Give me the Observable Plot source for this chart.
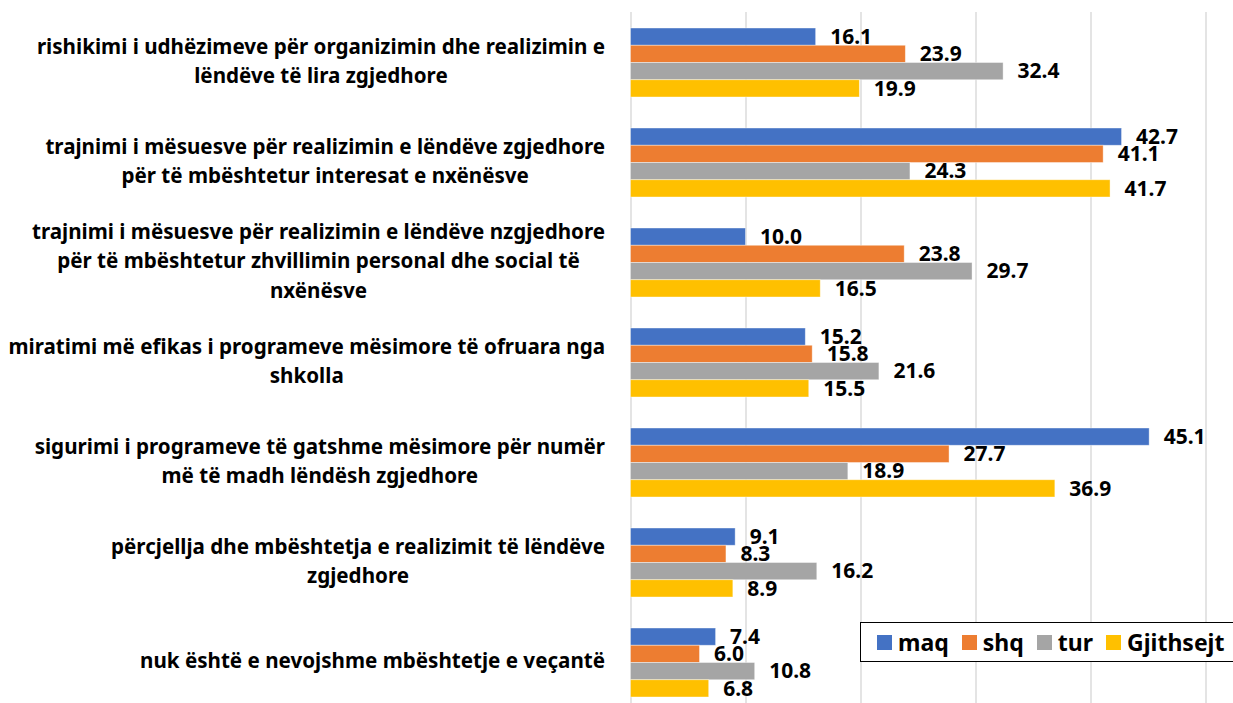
<!DOCTYPE html>
<html><head><meta charset="utf-8">
<script src="https://cdn.jsdelivr.net/npm/d3@7"></script>
<script src="https://cdn.jsdelivr.net/npm/@observablehq/plot@0.6"></script>
<style>
html,body{margin:0;padding:0;background:#fff;overflow:hidden;}
#wrap{position:relative;width:1233px;height:703px;overflow:hidden;}
#legend{position:absolute;left:860px;top:622px;width:368px;height:38px;border:1.6px solid #000;background:#fff;display:flex;align-items:center;font-family:"Noto Sans",sans-serif;font-weight:bold;font-size:23px;color:#000;box-sizing:content-box;padding-left:16px;}
#legend .sw{display:inline-block;width:15px;height:15px;margin-right:6px;}
#legend .it{display:flex;align-items:center;margin-right:13px;}
</style></head><body><div id="wrap"></div>
<script>
const categories = [
  "rishikimi i udhëzimeve për organizimin dhe realizimin e\nlëndëve të lira zgjedhore",
  "trajnimi i mësuesve për realizimin e lëndëve zgjedhore\npër të mbështetur interesat e nxënësve",
  "trajnimi i mësuesve për realizimin e lëndëve nzgjedhore\npër të mbështetur zhvillimin personal dhe social të\nnxënësve",
  "miratimi më efikas i programeve mësimore të ofruara nga\nshkolla",
  "sigurimi i programeve të gatshme mësimore për numër\nmë të madh lëndësh zgjedhore",
  "përcjellja dhe mbështetja e realizimit të lëndëve\nzgjedhore",
  "nuk është e nevojshme mbështetje e veçantë"
];
const seriesNames = ["maq", "shq", "tur", "Gjithsejt"];
const seriesColors = ["#4472C4", "#ED7D31", "#A5A5A5", "#FFC000"];
const maq = [16.1, 42.7, 10.0, 15.2, 45.1, 9.1, 7.4];
const shq = [23.9, 41.1, 23.8, 15.8, 27.7, 8.3, 6.0];
const tur = [32.4, 24.3, 29.7, 21.6, 18.9, 16.2, 10.8];
const gjithsejt = [19.9, 41.7, 16.5, 15.5, 36.9, 8.9, 6.8];
const xTicks = [0, 10, 20, 30, 40, 50];

const seriesValues = [maq, shq, tur, gjithsejt];
const rows = seriesValues.map((vals, s) => categories.map((c, i) => ({category: c, series: seriesNames[s], value: vals[i]})));

const bandwidth = 69; // px of band used by the 4 bars
const barH = bandwidth / 4;
const marks = [Plot.ruleX(xTicks, {stroke: "#D9D9D9", strokeWidth: 1.4})];
rows.forEach((data, s) => {
  marks.push(Plot.barX(data, {x: "value", y: "category", fill: seriesColors[s], stroke: "#fff", strokeOpacity: 0.5, strokeWidth: 0.8,
    insetTop: s * barH, insetBottom: (3 - s) * barH}));
});
rows.forEach((data, s) => {
  marks.push(Plot.text(data, {x: "value", y: "category", text: d => d.value.toFixed(1), textAnchor: "start",
    dx: 14, dy: (s - 1.5) * barH, fontSize: 21, fontWeight: "bold", fill: "#000"}));
});
marks.push(Plot.text(categories, {y: d => d, text: d => d, frameAnchor: "left", textAnchor: "middle", lineAnchor: "middle",
  lineHeight: 1.42, fontSize: 20.6, fontWeight: "bold", fill: "#000", dx: -300, dy: -4}));

const chart = Plot.plot({
  width: 1233, height: 712,
  marginLeft: 630.5, marginRight: 27.5, marginTop: 12, marginBottom: 0,
  style: {fontFamily: "'Noto Sans', sans-serif", background: "#fff"},
  x: {domain: [0, 50], axis: null},
  y: {domain: categories, axis: null, paddingInner: 0.31, paddingOuter: 0.155},
  marks
});
const wrap = document.getElementById("wrap");
wrap.appendChild(chart);

// right-align each label block at x = 605 while keeping its lines centered
const groups = chart.querySelectorAll('g[aria-label="text"]');
const labelGroup = groups[groups.length - 1];
const svgRect = chart.getBoundingClientRect();
labelGroup.querySelectorAll("text").forEach(t => {
  const r = t.getBoundingClientRect();
  const delta = 605 - (r.right - svgRect.left);
  const tr = t.getAttribute("transform") || "";
  t.setAttribute("transform", `translate(${delta},0) ${tr}`);
});

// legend
const legend = document.createElement("div");
legend.id = "legend";
seriesNames.forEach((n, i) => {
  const it = document.createElement("span");
  it.className = "it";
  it.innerHTML = `<span class="sw" style="background:${seriesColors[i]}"></span>${n}`;
  legend.appendChild(it);
});
wrap.appendChild(legend);
</script></body></html>
